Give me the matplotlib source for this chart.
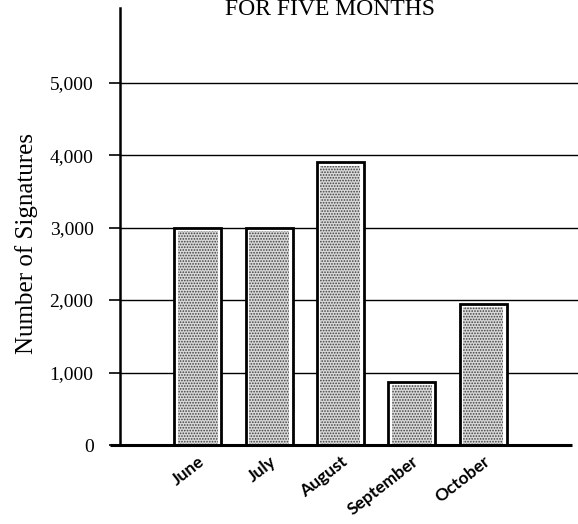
import matplotlib
matplotlib.use("Agg")
import matplotlib.pyplot as plt
from matplotlib.ticker import FuncFormatter

months = ["June", "July", "August", "September", "October"]
signatures = [3000, 3000, 3900, 875, 1950]
y_ticks = [0, 1000, 2000, 3000, 4000, 5000]
grid_levels = [1000, 2000, 3000, 4000, 5000]

plt.rcParams["font.family"] = ["Liberation Serif", "DejaVu Serif"]
plt.rcParams["hatch.linewidth"] = 0.8
plt.rcParams["hatch.color"] = "#404040"

fig = plt.figure(figsize=(5.78, 5.24), dpi=100)
ax = fig.add_axes([120 / 578, 79 / 524, 1 - 120 / 578, 437 / 524])

x = list(range(len(months)))

# outer frame of each bar, then a stippled core inset from the frame
ax.bar(x, signatures, width=0.66, color="white", edgecolor="black",
       linewidth=2.0, zorder=3)
ax.bar(x, [v - 45 for v in signatures], width=0.56,
       color="#d8d8d8", hatch="......", linewidth=0, zorder=4)

ax.set_xlim(-1.09, 5.33)
ax.set_ylim(0, 6030)

ax.set_yticks(y_ticks)
ax.yaxis.set_major_formatter(FuncFormatter(lambda v, p: f"{int(v):,}"))
ax.tick_params(axis="y", direction="out", length=8, width=1.2,
               labelsize=14, pad=11)
for lvl in grid_levels:
    ax.axhline(lvl, color="black", linewidth=1.0, zorder=1)

ax.set_xticks(x)
ax.set_xticklabels(months, rotation=38, ha="right",
                   rotation_mode="anchor", fontsize=12.5,
                   family=["Lato", "DejaVu Sans"], fontweight="bold")
ax.tick_params(axis="x", length=0, pad=6)

for s in ["top", "right", "bottom"]:
    ax.spines[s].set_visible(False)
ax.spines["left"].set_linewidth(1.8)

# baseline running past the vertical axis on the left
ax.hlines(0, -1.23, 5.25, color="black", linewidth=2.2, clip_on=False,
          zorder=5)

ax.set_ylabel("Number of Signatures", fontsize=18)
ax.yaxis.set_label_coords(-0.18, 0.46)

fig.text(330 / 578, 1 - 15 / 524, "FOR FIVE MONTHS", ha="center",
         va="baseline", fontsize=17)

fig.savefig("out.png", dpi=100)
